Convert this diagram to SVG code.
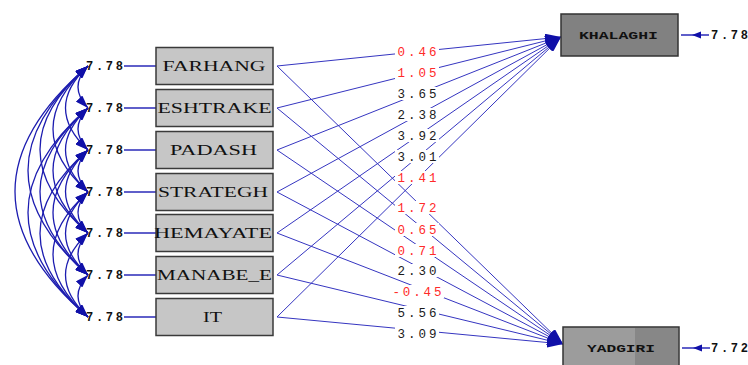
<svg xmlns="http://www.w3.org/2000/svg" width="748" height="365" viewBox="0 0 748 365">
<style>
.box{fill:#c6c6c6;stroke:#3a3a3a;stroke-width:1.5}
.lbl{font-family:"Liberation Serif",serif;font-size:14px;fill:#111;text-anchor:middle}
.rlbl{font-family:"Liberation Mono",monospace;font-size:10px;font-weight:bold;fill:#111;text-anchor:middle}
.err{font-family:"Liberation Mono",monospace;font-size:12px;font-weight:bold;fill:#111}
.cov{fill:none;stroke:#1c1cb0;stroke-width:1.3}
.path{fill:none;stroke:#3535c0;stroke-width:1}
.eline{stroke:#2a2ab8;stroke-width:1.5}
.num{font-family:"Liberation Mono",monospace;font-size:12.5px;text-anchor:middle}
.bg{fill:#fff}
.red{fill:#ff2a2a}
.blk{fill:#1a1a1a}
</style>
<defs>
<marker id="ah" viewBox="0 0 13 9" refX="13" refY="4.5" markerWidth="13" markerHeight="9" markerUnits="userSpaceOnUse" orient="auto-start-reverse">
<path d="M0,0 L13,4.5 L0,9 Z" fill="#1010a8"/>
</marker>
<marker id="ahp" viewBox="0 0 16 10" refX="16" refY="5" markerWidth="16" markerHeight="10" markerUnits="userSpaceOnUse" orient="auto">
<path d="M0,0 L16,5 L0,10 Z" fill="#1010a8"/>
</marker>
</defs>

<g id="covariances">
<path class="cov" marker-start="url(#ah)" marker-end="url(#ah)" d="M88,66 Q68,87 88,108"/>
<path class="cov" marker-start="url(#ah)" marker-end="url(#ah)" d="M88,108 Q68,129 88,150"/>
<path class="cov" marker-start="url(#ah)" marker-end="url(#ah)" d="M88,150 Q68,171 88,192"/>
<path class="cov" marker-start="url(#ah)" marker-end="url(#ah)" d="M88,192 Q68,212.5 88,233"/>
<path class="cov" marker-start="url(#ah)" marker-end="url(#ah)" d="M88,233 Q68,254 88,275"/>
<path class="cov" marker-start="url(#ah)" marker-end="url(#ah)" d="M88,275 Q68,296 88,317"/>
<path class="cov" marker-start="url(#ah)" marker-end="url(#ah)" d="M88,66 Q43,108 88,150"/>
<path class="cov" marker-start="url(#ah)" marker-end="url(#ah)" d="M88,108 Q43,150 88,192"/>
<path class="cov" marker-start="url(#ah)" marker-end="url(#ah)" d="M88,150 Q43,191.5 88,233"/>
<path class="cov" marker-start="url(#ah)" marker-end="url(#ah)" d="M88,192 Q43,233.5 88,275"/>
<path class="cov" marker-start="url(#ah)" marker-end="url(#ah)" d="M88,233 Q43,275 88,317"/>
<path class="cov" marker-start="url(#ah)" marker-end="url(#ah)" d="M88,66 Q18,129 88,192"/>
<path class="cov" marker-start="url(#ah)" marker-end="url(#ah)" d="M88,108 Q18,170.5 88,233"/>
<path class="cov" marker-start="url(#ah)" marker-end="url(#ah)" d="M88,150 Q18,212.5 88,275"/>
<path class="cov" marker-start="url(#ah)" marker-end="url(#ah)" d="M88,192 Q18,254.5 88,317"/>
<path class="cov" marker-start="url(#ah)" marker-end="url(#ah)" d="M88,66 Q-8,149.5 88,233"/>
<path class="cov" marker-start="url(#ah)" marker-end="url(#ah)" d="M88,108 Q-8,191.5 88,275"/>
<path class="cov" marker-start="url(#ah)" marker-end="url(#ah)" d="M88,150 Q-8,233.5 88,317"/>
<path class="cov" marker-start="url(#ah)" marker-end="url(#ah)" d="M88,66 Q-32,170.5 88,275"/>
<path class="cov" marker-start="url(#ah)" marker-end="url(#ah)" d="M88,108 Q-32,212.5 88,317"/>
<path class="cov" marker-start="url(#ah)" marker-end="url(#ah)" d="M88,66 Q-58,191.5 88,317"/>
</g>

<g id="error-lines">
<line class="eline" x1="124" y1="66" x2="156" y2="66"/>
<line class="eline" x1="124" y1="108" x2="156" y2="108"/>
<line class="eline" x1="124" y1="150" x2="156" y2="150"/>
<line class="eline" x1="124" y1="192" x2="156" y2="192"/>
<line class="eline" x1="124" y1="233" x2="156" y2="233"/>
<line class="eline" x1="124" y1="275" x2="156" y2="275"/>
<line class="eline" x1="124" y1="317" x2="156" y2="317"/>
<text class="err" x="86" y="70" textLength="37" lengthAdjust="spacing">7.78</text>
<text class="err" x="86" y="112" textLength="37" lengthAdjust="spacing">7.78</text>
<text class="err" x="86" y="154" textLength="37" lengthAdjust="spacing">7.78</text>
<text class="err" x="86" y="196" textLength="37" lengthAdjust="spacing">7.78</text>
<text class="err" x="86" y="237" textLength="37" lengthAdjust="spacing">7.78</text>
<text class="err" x="86" y="279" textLength="37" lengthAdjust="spacing">7.78</text>
<text class="err" x="86" y="321" textLength="37" lengthAdjust="spacing">7.78</text>
</g>

<g id="connectors">
<path class="path" marker-end="url(#ahp)" d="M277,66 L561,37"/>
<path class="path" marker-end="url(#ahp)" d="M277,108 L561,37"/>
<path class="path" marker-end="url(#ahp)" d="M277,150 L561,37"/>
<path class="path" marker-end="url(#ahp)" d="M277,192 L561,37"/>
<path class="path" marker-end="url(#ahp)" d="M277,233 L561,37"/>
<path class="path" marker-end="url(#ahp)" d="M277,275 L561,37"/>
<path class="path" marker-end="url(#ahp)" d="M277,317 L561,37"/>
<path class="path" marker-end="url(#ahp)" d="M277,66 L563,344"/>
<path class="path" marker-end="url(#ahp)" d="M277,108 L563,344"/>
<path class="path" marker-end="url(#ahp)" d="M277,150 L563,344"/>
<path class="path" marker-end="url(#ahp)" d="M277,192 L563,344"/>
<path class="path" marker-end="url(#ahp)" d="M277,233 L563,344"/>
<path class="path" marker-end="url(#ahp)" d="M277,275 L563,344"/>
<path class="path" marker-end="url(#ahp)" d="M277,317 L563,344"/>
<rect class="bg" x="395" y="45" width="44" height="13"/>
<rect class="bg" x="395" y="66" width="44" height="13"/>
<rect class="bg" x="395" y="87" width="44" height="13"/>
<rect class="bg" x="395" y="108" width="44" height="13"/>
<rect class="bg" x="395" y="129" width="44" height="13"/>
<rect class="bg" x="395" y="150" width="44" height="13"/>
<rect class="bg" x="395" y="171" width="44" height="13"/>
<rect class="bg" x="395" y="201" width="44" height="13"/>
<rect class="bg" x="395" y="223" width="44" height="13"/>
<rect class="bg" x="395" y="244" width="44" height="13"/>
<rect class="bg" x="395" y="264" width="44" height="13"/>
<rect class="bg" x="390" y="285" width="54" height="13"/>
<rect class="bg" x="395" y="306" width="44" height="13"/>
<rect class="bg" x="395" y="327" width="44" height="13"/>
<text class="num red" x="417" y="56" textLength="39" lengthAdjust="spacing">0.46</text>
<text class="num red" x="417" y="77" textLength="39" lengthAdjust="spacing">1.05</text>
<text class="num blk" x="417" y="98" textLength="39" lengthAdjust="spacing">3.65</text>
<text class="num blk" x="417" y="119" textLength="39" lengthAdjust="spacing">2.38</text>
<text class="num blk" x="417" y="140" textLength="39" lengthAdjust="spacing">3.92</text>
<text class="num blk" x="417" y="161" textLength="39" lengthAdjust="spacing">3.01</text>
<text class="num red" x="417" y="182" textLength="39" lengthAdjust="spacing">1.41</text>
<text class="num red" x="417" y="212" textLength="39" lengthAdjust="spacing">1.72</text>
<text class="num red" x="417" y="234" textLength="39" lengthAdjust="spacing">0.65</text>
<text class="num red" x="417" y="255" textLength="39" lengthAdjust="spacing">0.71</text>
<text class="num blk" x="417" y="275" textLength="39" lengthAdjust="spacing">2.30</text>
<text class="num red" x="417" y="296" textLength="49" lengthAdjust="spacing">-0.45</text>
<text class="num blk" x="417" y="317" textLength="39" lengthAdjust="spacing">5.56</text>
<text class="num blk" x="417" y="338" textLength="39" lengthAdjust="spacing">3.09</text>
</g>

<g id="FARHANG"><rect class="box" x="156" y="47.5" width="117" height="37"/><text class="lbl" x="214" y="71" textLength="103" lengthAdjust="spacingAndGlyphs">FARHANG</text></g>
<g id="ESHTRAKE"><rect class="box" x="156" y="89.5" width="117" height="37"/><text class="lbl" x="214.5" y="113" textLength="114" lengthAdjust="spacingAndGlyphs">ESHTRAKE</text></g>
<g id="PADASH"><rect class="box" x="156" y="131.5" width="117" height="37"/><text class="lbl" x="213.5" y="155" textLength="87" lengthAdjust="spacingAndGlyphs">PADASH</text></g>
<g id="STRATEGH"><rect class="box" x="156" y="173.5" width="117" height="37"/><text class="lbl" x="213" y="197" textLength="110" lengthAdjust="spacingAndGlyphs">STRATEGH</text></g>
<g id="HEMAYATE"><rect class="box" x="156" y="214.5" width="117" height="37"/><text class="lbl" x="213" y="238" textLength="118" lengthAdjust="spacingAndGlyphs">HEMAYATE</text></g>
<g id="MANABE_E"><rect class="box" x="156" y="256.5" width="117" height="37"/><text class="lbl" x="214.5" y="280" textLength="115" lengthAdjust="spacingAndGlyphs">MANABE_E</text></g>
<g id="IT"><rect class="box" x="156" y="298.5" width="117" height="37"/><text class="lbl" x="212.5" y="322" textLength="19" lengthAdjust="spacingAndGlyphs">IT</text></g>

<g id="KHALAGHI">
<rect x="561" y="14" width="117" height="42" fill="#818181" stroke="#333" stroke-width="1.5"/>
<text class="rlbl" x="618.5" y="39" textLength="79" lengthAdjust="spacingAndGlyphs">KHALAGHI</text>
<line class="eline" x1="681" y1="35" x2="709" y2="35"/>
<path d="M692,35 L701,31.5 L701,38.5 Z" fill="#1010a8"/>
<text class="err" x="711" y="39" textLength="37" lengthAdjust="spacing">7.78</text>
</g>

<g id="YADGIRI">
<rect x="563" y="327" width="116" height="42" fill="#9c9c9c" stroke="#333" stroke-width="1.5"/>
<rect x="635" y="328" width="43" height="40" fill="#878787"/>
<text class="rlbl" x="621" y="352" textLength="68" lengthAdjust="spacingAndGlyphs">YADGIRI</text>
<line class="eline" x1="682" y1="348" x2="710" y2="348"/>
<path d="M693,348 L702,344.5 L702,351.5 Z" fill="#1010a8"/>
<text class="err" x="711" y="352" textLength="37" lengthAdjust="spacing">7.72</text>
</g>
</svg>
